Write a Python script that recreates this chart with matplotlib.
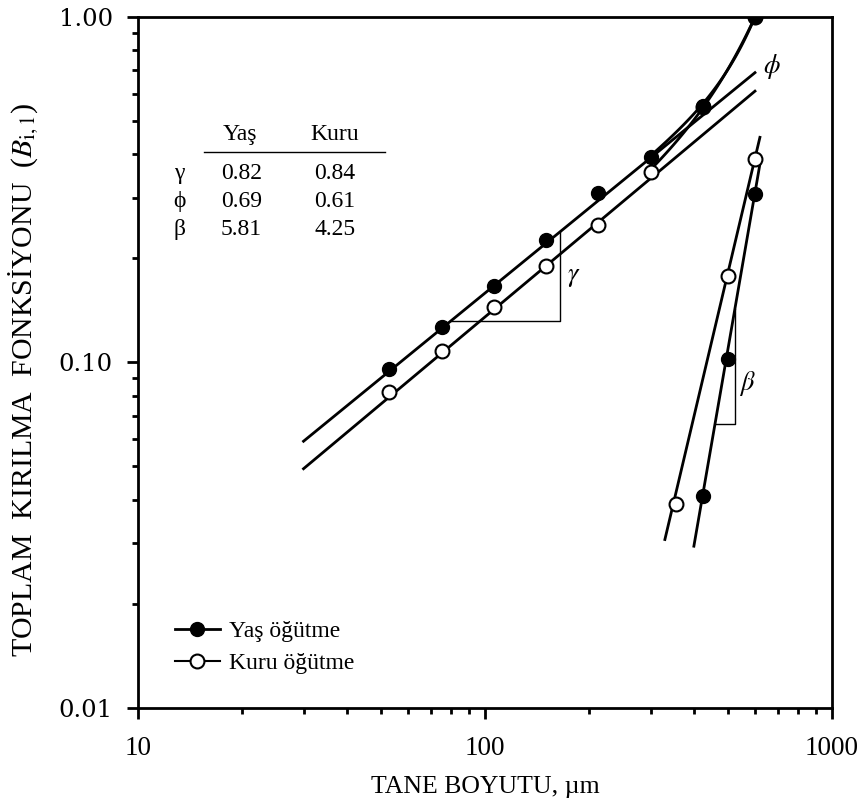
import numpy as np
import matplotlib
matplotlib.use("Agg")
import matplotlib.pyplot as plt
from matplotlib.lines import Line2D
from matplotlib.ticker import FuncFormatter, NullFormatter

plt.rcParams['font.family'] = ['Liberation Serif', 'DejaVu Serif']
plt.rcParams['mathtext.fontset'] = 'stix'

# cumulative breakage B(i,1) values
sizes = [53, 75, 106, 150, 212, 300, 425, 600]   # um
yas_B = [0.096, 0.127, 0.166, 0.226, 0.309, 0.394, 0.553, 1.00]
kuru_B = [0.082, 0.108, 0.1445, 0.190, 0.250, 0.355, 0.547, 1.00]

# steep (beta) part points
yas_steep_x = [425, 500, 600]
yas_steep_y = [0.041, 0.102, 0.307]
kuru_steep_x = [355, 500, 600]
kuru_steep_y = [0.039, 0.178, 0.387]

# fitted parameters (table)
params = ['γ', 'ϕ', 'β']
yas_par = [0.82, 0.69, 5.81]
kuru_par = [0.84, 0.61, 4.25]
x_top = 600.0

fig = plt.figure(figsize=(8.65, 8.08), dpi=100)
ax = fig.add_axes([0.1595, 0.1238, 0.8023, 0.8552])
ax.set_xscale('log')
ax.set_yscale('log')


def gentle(x, p):
    return p[1] * (x / x_top) ** p[0]


def steep(x, p):
    return (1 - p[1]) * (x / x_top) ** p[2]


lw = 2.0
# gamma lines
xg = np.geomspace(30, 600, 50)
ax.plot(xg, gentle(xg, yas_par), color='k', lw=lw)
ax.plot(xg, gentle(xg, kuru_par), color='k', lw=lw)
# beta lines
xs = np.geomspace(400, 620, 50)
ax.plot(xs, steep(xs, yas_par), color='k', lw=lw)
xs = np.geomspace(330, 620, 50)
ax.plot(xs, steep(xs, kuru_par), color='k', lw=lw)
# full model curves
xc = np.geomspace(300, 600, 60)
ax.plot(xc, gentle(xc, kuru_par) + steep(xc, kuru_par), color='k', lw=lw)
ax.plot(xc, gentle(xc, yas_par) + steep(xc, yas_par), color='k', lw=lw)

# slope triangles
x1, x2 = 80.0, 165.0
ax.plot([x1, x2, x2], [gentle(x1, yas_par), gentle(x1, yas_par), gentle(x2, yas_par)],
        color='k', lw=1.0)
x1, x2 = 460.0, 525.0
ax.plot([x1, x2, x2], [steep(x1, yas_par), steep(x1, yas_par), steep(x2, yas_par)],
        color='k', lw=1.0)

ms = 10
ax.plot(sizes, kuru_B, 'o', ms=ms, mfc='white', mec='k', mew=1.5, zorder=4)
ax.plot(kuru_steep_x, kuru_steep_y, 'o', ms=ms, mfc='white', mec='k', mew=1.5, zorder=4)
ax.plot(sizes, yas_B, 'o', ms=ms, color='k', zorder=5)
ax.plot(yas_steep_x, yas_steep_y, 'o', ms=ms, color='k', zorder=5)

ax.text(180, 0.175, r'$\gamma$', fontsize=19, ha='center', va='center')
ax.text(570, 0.087, r'$\beta$', fontsize=19, ha='center', va='center')
ax.text(672, 0.72, r'$\phi$', fontsize=19, ha='center', va='center')

# table
fs = 17
ax.text(0.147, 0.822, 'Yaş', transform=ax.transAxes, fontsize=fs, ha='center', va='baseline')
ax.text(0.284, 0.822, 'Kuru', transform=ax.transAxes, fontsize=fs, ha='center', va='baseline')
ax.plot([0.095, 0.356], [0.805, 0.805], transform=ax.transAxes, color='k', lw=1.0)
rows_y = [0.773, 0.733, 0.693]
for name, a, b, yy in zip(params, yas_par, kuru_par, rows_y):
    ax.text(0.0595, yy, name, transform=ax.transAxes, fontsize=fs, ha='center', va='center')
    ax.text(0.149, yy, '%.2f' % a, transform=ax.transAxes, fontsize=fs, ha='center', va='center')
    ax.text(0.284, yy, '%.2f' % b, transform=ax.transAxes, fontsize=fs, ha='center', va='center')

handles = [Line2D([], [], color='k', lw=lw, marker='o', ms=ms, mfc='k', mec='k'),
           Line2D([], [], color='k', lw=1.5, marker='o', ms=ms, mfc='white', mec='k', mew=1.5)]
ax.legend(handles, ['Yaş öğütme', 'Kuru öğütme'], loc='lower left',
          bbox_to_anchor=(0.053, 0.049), borderpad=0, borderaxespad=0, frameon=False,
          fontsize=17, handlelength=1.9, handletextpad=0.4, labelspacing=0.45)

ax.set_xlim(10, 1000)
ax.set_ylim(0.01, 1.0)
ax.set_xticks([10, 100, 1000])
ax.xaxis.set_major_formatter(FuncFormatter(lambda v, p: '%d' % v))
ax.xaxis.set_minor_formatter(NullFormatter())
ax.set_yticks([0.01, 0.1, 1.0])
ax.yaxis.set_major_formatter(FuncFormatter(lambda v, p: '%.2f' % v))
ax.yaxis.set_minor_formatter(NullFormatter())

for s in ax.spines.values():
    s.set_linewidth(2.0)
ax.tick_params(which='major', direction='out', length=8, width=2.0)
ax.tick_params(which='minor', direction='out', length=4.5, width=2.0)
ax.tick_params(axis='x', which='major', labelsize=19.5, pad=12)
ax.tick_params(axis='y', which='major', pad=10)
for t in ax.get_yticklabels():
    t.set_fontfamily('DejaVu Serif')
    t.set_fontsize(17.5)

ax.set_xlabel('TANE BOYUTU, µm', fontsize=18.5, labelpad=11)
ax.set_ylabel(r'TOPLAM  KIRILMA  FONKSİYONU  ($B_{\mathrm{i,1}}$)', fontsize=21.5)
ax.yaxis.set_label_coords(-0.14, 0.475)

fig.savefig('out.png', dpi=100)
